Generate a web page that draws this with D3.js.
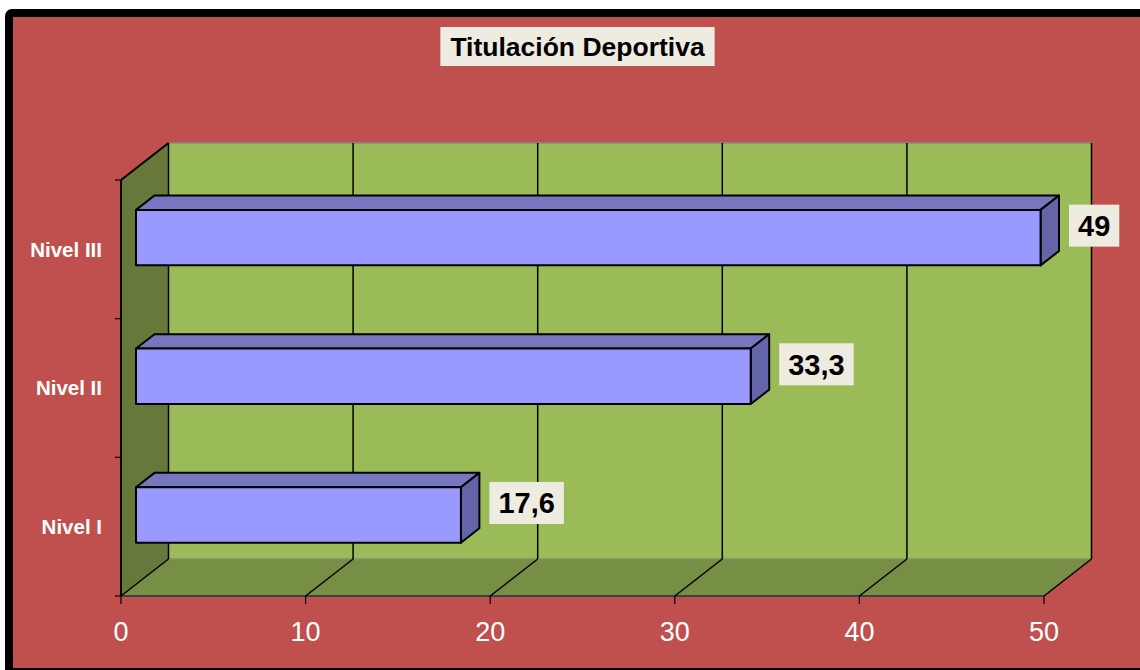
<!DOCTYPE html>
<html>
<head>
<meta charset="utf-8">
<script src="https://cdn.jsdelivr.net/npm/d3@7"></script>
<style>
  html, body { margin: 0; padding: 0; background: #ffffff; }
  svg { display: block; }
  text { font-family: "Liberation Sans", Arial, sans-serif; }
</style>
</head>
<body>
<svg id="chart" width="1140" height="670"></svg>
<script>
// ---- data ----
const title = "Titulación Deportiva";
const categories = ["Nivel III", "Nivel II", "Nivel I"];
const values = [49, 33.3, 17.6];
const valueLabels = ["49", "33,3", "17,6"];
const xTicks = [0, 10, 20, 30, 40, 50];

// ---- layout ----
const svg = d3.select("#chart");
const X0 = 121, X1 = 1044;           // front plane x-range
const YT = 180, YB = 596;            // front plane y-range
const DX = 47.5, DY = -37;           // full depth offset
const barF = 0.316, barB = 0.705;    // bar depth fractions

const x = d3.scaleLinear().domain([0, 50]).range([X0, X1]);
const y = d3.scaleBand().domain(categories).range([YT, YB]).paddingInner(0.6).paddingOuter(0.3);
const yBand = d3.scaleBand().domain(categories).range([YT, YB]);

const P = (px, py, d) => [px + d * DX, py + d * DY];
const poly = pts => "M" + pts.map(p => p.join(",")).join("L") + "Z";

// background + border
svg.append("rect").attr("x", 5).attr("y", 9).attr("width", 1150).attr("height", 680)
  .attr("rx", 7).attr("fill", "#000");
svg.append("rect").attr("x", 13).attr("y", 17).attr("width", 1140).attr("height", 651)
  .attr("fill", "#C0504D");

// back wall
const bw = [P(X0, YT, 1), P(X1, YT, 1), P(X1, YB, 1), P(X0, YB, 1)];
svg.append("path").attr("d", poly(bw)).attr("fill", "#9BBB59");
svg.append("line").attr("x1", bw[0][0]).attr("y1", bw[0][1]).attr("x2", bw[1][0]).attr("y2", bw[1][1])
  .attr("stroke", "#8a8a8a").attr("stroke-width", 1.5);

// side wall
const sw = [P(X0, YT, 0), P(X0, YT, 1), P(X0, YB, 1), P(X0, YB, 0)];
svg.append("path").attr("d", poly(sw)).attr("fill", "#67793A");

// floor
const fl = [P(X0, YB, 0), P(X0, YB, 1), P(X1, YB, 1), P(X1, YB, 0)];
svg.append("path").attr("d", poly(fl)).attr("fill", "#778E45");
svg.append("line").attr("x1", fl[1][0]).attr("y1", fl[1][1]).attr("x2", fl[2][0]).attr("y2", fl[2][1])
  .attr("stroke", "#8a8a70").attr("stroke-width", 1.5);
svg.append("line").attr("x1", fl[0][0]).attr("y1", fl[0][1]).attr("x2", fl[3][0]).attr("y2", fl[3][1])
  .attr("stroke", "#404040").attr("stroke-width", 2);

// gridlines (back wall verticals + floor diagonals)
xTicks.forEach(v => {
  const a = P(x(v), YT, 1), b = P(x(v), YB, 1), c = P(x(v), YB, 0);
  svg.append("line").attr("x1", a[0]).attr("y1", a[1]).attr("x2", b[0]).attr("y2", b[1])
    .attr("stroke", "#000").attr("stroke-width", 1.5);
  svg.append("line").attr("x1", b[0]).attr("y1", b[1]).attr("x2", c[0]).attr("y2", c[1])
    .attr("stroke", "#000").attr("stroke-width", 1.5);
  // tick mark
  svg.append("line").attr("x1", x(v)).attr("y1", YB).attr("x2", x(v)).attr("y2", YB + 8)
    .attr("stroke", "#000").attr("stroke-width", 1.2);
  svg.append("text").attr("x", x(v)).attr("y", 641).attr("text-anchor", "middle")
    .attr("font-size", 27).attr("fill", "#fff").text(String(v));
});

// side wall edges (y axis)
svg.append("line").attr("x1", X0).attr("y1", YT).attr("x2", X0).attr("y2", YB)
  .attr("stroke", "#000").attr("stroke-width", 2);
svg.append("line").attr("x1", sw[0][0]).attr("y1", sw[0][1]).attr("x2", sw[1][0]).attr("y2", sw[1][1])
  .attr("stroke", "#000").attr("stroke-width", 2);
// y ticks at band boundaries
const bounds = categories.map(c => yBand(c)).concat([YB]);
bounds.forEach(b => {
  svg.append("line").attr("x1", X0 - 6).attr("y1", b).attr("x2", X0).attr("y2", b)
    .attr("stroke", "#000").attr("stroke-width", 1.2);
});
// category labels
categories.forEach(c => {
  svg.append("text").attr("x", 102).attr("y", yBand(c) + yBand.bandwidth() / 2)
    .attr("dy", "0.36em").attr("text-anchor", "end").attr("font-size", 20.5)
    .attr("font-weight", "bold").attr("fill", "#fff").text(c);
});

// bars
categories.forEach((c, i) => {
  const v = values[i];
  const top = y(c), bot = y(c) + y.bandwidth();
  const fTL = P(x(0), top, barF), fTR = P(x(v), top, barF), fBR = P(x(v), bot, barF), fBL = P(x(0), bot, barF);
  const bTL = P(x(0), top, barB), bTR = P(x(v), top, barB), bBR = P(x(v), bot, barB);
  const g = svg.append("g").attr("stroke", "#000").attr("stroke-width", 2).attr("stroke-linejoin", "round");
  g.append("path").attr("d", poly([fTL, bTL, bTR, fTR])).attr("fill", "#7777C0");
  g.append("path").attr("d", poly([fTR, bTR, bBR, fBR])).attr("fill", "#6464A8");
  g.append("path").attr("d", poly([fTL, fTR, fBR, fBL])).attr("fill", "#9999FF");

  // value label
  const cy = (fTR[1] + fBR[1]) / 2 - 12;
  const lx = bTR[0] + 10;
  const t = svg.append("text").attr("font-size", 29).attr("font-weight", "bold")
    .attr("fill", "#000").text(valueLabels[i]);
  const w = t.node().getComputedTextLength();
  svg.insert("rect", "text:last-of-type").attr("x", lx).attr("y", cy - 21).attr("width", w + 18).attr("height", 42)
    .attr("fill", "#EEECE1");
  t.attr("x", lx + 9).attr("y", cy).attr("dy", "0.36em");
  t.raise();
});

// title
const tt = svg.append("text").attr("x", 577.5).attr("y", 56).attr("text-anchor", "middle")
  .attr("font-size", 26.5).attr("font-weight", "bold").attr("fill", "#000").text(title);
const tw = tt.node().getComputedTextLength();
svg.insert("rect", "text:last-of-type").attr("x", 577.5 - tw / 2 - 10).attr("y", 27)
  .attr("width", tw + 20).attr("height", 39).attr("fill", "#EEECE1");
tt.raise();
</script>
</body>
</html>
